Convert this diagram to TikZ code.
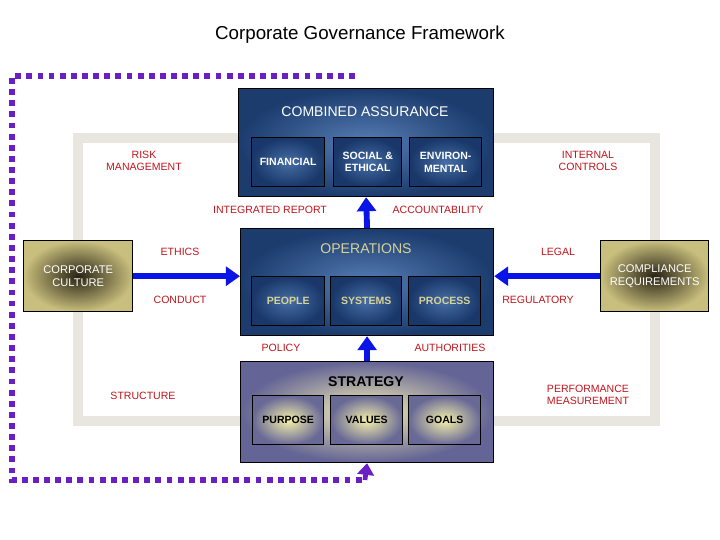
\documentclass[tikz,border=0pt]{standalone}
\usepackage{fontspec}
\setmainfont{Liberation Sans}
\usetikzlibrary{arrows.meta}
\definecolor{lab}{HTML}{C0141C}
\definecolor{pur}{HTML}{6A1FC4}
\definecolor{arr}{HTML}{0A14E6}
\tikzset{
 lbl/.style={text=lab,font=\fontsize{9}{10.5}\selectfont,align=center},
 bigblue/.style={draw=black,line width=1pt,inner color={rgb,255:red,85;green,125;blue,180},outer color={rgb,255:red,28;green,60;blue,110}},
 subblue/.style={draw=black,line width=1.2pt,inner color={rgb,255:red,70;green,110;blue,165},outer color={rgb,255:red,25;green,55;blue,105},text=white,font=\fontsize{9}{10.5}\selectfont\bfseries,align=center},
 subops/.style={subblue,text={rgb,255:red,215;green,210;blue,150}},
 bigstrat/.style={draw=black,line width=1pt,inner color={rgb,255:red,245;green,240;blue,180},outer color={rgb,255:red,100;green,100;blue,150}},
 substrat/.style={draw=black,line width=1.2pt,inner color={rgb,255:red,245;green,240;blue,170},outer color={rgb,255:red,105;green,105;blue,150},text=black,font=\fontsize{9}{10.5}\selectfont\bfseries,align=center},
 gold/.style={draw=black,line width=1.2pt,inner color={rgb,255:red,40;green,35;blue,20},outer color={rgb,255:red,200;green,190;blue,125},text=white,font=\fontsize{9.5}{11}\selectfont,align=center},
 barr/.style={draw=arr,line width=5pt,-{Triangle[length=12pt,width=16pt]}},
 parr/.style={draw=pur,line width=5pt,dash pattern=on 5pt off 4.5pt},
}
\begin{document}
\begin{tikzpicture}[x=0.03cm,y=-0.03cm]
\useasboundingbox (0,0) rectangle (720,540);
\node[font=\fontsize{16}{19}\selectfont] (title) at (360,35) {Corporate Governance Framework};
% gray frame
\draw[line width=8pt,color={rgb,255:red,232;green,230;blue,222}] (78,138) rectangle (655,421);
% purple dotted
\coordinate (p1) at (355,76);
\coordinate (p2) at (12,76);
\coordinate (p3) at (12,480);
\coordinate (p4) at (365,480);
\draw[parr] (p1) -- (p2) -- (p3) -- (p4);
% big boxes
\node[bigblue,minimum width=255*0.03cm,minimum height=108*0.03cm,anchor=north west] (ca) at (238,88) {};
\node[text=white,font=\fontsize{12}{14}\selectfont] (cat) at (365,112) {COMBINED ASSURANCE};
\node[subblue,minimum width=73*0.03cm,minimum height=49*0.03cm,anchor=north west] (fin) at (251,137) {FINANCIAL};
\node[subblue,minimum width=68*0.03cm,minimum height=49*0.03cm,anchor=north west] (soc) at (333,137) {SOCIAL \&\\ETHICAL};
\node[subblue,minimum width=72*0.03cm,minimum height=49*0.03cm,anchor=north west] (env) at (409,137) {ENVIRON-\\MENTAL};

\node[bigblue,minimum width=253*0.03cm,minimum height=107*0.03cm,anchor=north west] (ops) at (240,228) {};
\node[text={rgb,255:red,215;green,210;blue,150},font=\fontsize{12}{14}\selectfont] (opst) at (366,249) {OPERATIONS};
\node[subops,minimum width=73*0.03cm,minimum height=49*0.03cm,anchor=north west] (peo) at (251,276) {PEOPLE};
\node[subops,minimum width=71*0.03cm,minimum height=49*0.03cm,anchor=north west] (sys) at (330,276) {SYSTEMS};
\node[subops,minimum width=72*0.03cm,minimum height=49*0.03cm,anchor=north west] (pro) at (408,276) {PROCESS};

\node[bigstrat,minimum width=253*0.03cm,minimum height=101*0.03cm,anchor=north west] (str) at (240,361) {};
\node[font=\fontsize{12}{14}\selectfont\bfseries] (strt) at (366,382) {STRATEGY};
\node[substrat,minimum width=71*0.03cm,minimum height=49*0.03cm,anchor=north west] (pur) at (252,395) {PURPOSE};
\node[substrat,minimum width=72*0.03cm,minimum height=49*0.03cm,anchor=north west] (val) at (330,395) {VALUES};
\node[substrat,minimum width=72*0.03cm,minimum height=49*0.03cm,anchor=north west] (goa) at (408,395) {GOALS};

\node[gold,minimum width=109*0.03cm,minimum height=71*0.03cm,anchor=north west] (cc) at (23,240) {CORPORATE\\CULTURE};
\node[gold,minimum width=108*0.03cm,minimum height=71*0.03cm,anchor=north west] (cr) at (600,240) {COMPLIANCE\\REQUIREMENTS};

% arrows
\draw[barr] (cc.east) -- (cc.east -| ops.west);
\draw[barr] (cr.west) -- (cr.west -| ops.east);
\draw[barr] (ops.north) -- (ca.south);
\draw[barr] (str.north) -- (ops.south);
\draw[draw=pur,line width=4pt,-{Triangle[length=10pt,width=14pt]}] (p4) -- (str.south);

% labels
\node[lbl] (l1) at (144,161) {RISK\\MANAGEMENT};
\node[lbl] (l2) at (270,210) {INTEGRATED REPORT};
\node[lbl] (l3) at (438,210) {ACCOUNTABILITY};
\node[lbl] (l4) at (588,161) {INTERNAL\\CONTROLS};
\node[lbl] (l5) at (180,252) {ETHICS};
\node[lbl] (l6) at (180,300) {CONDUCT};
\node[lbl] (l7) at (558,252) {LEGAL};
\node[lbl] (l8) at (538,300) {REGULATORY};
\node[lbl] (l9) at (281,348) {POLICY};
\node[lbl] (l10) at (450,348) {AUTHORITIES};
\node[lbl] (l11) at (143,396) {STRUCTURE};
\node[lbl] (l12) at (588,395) {PERFORMANCE\\MEASUREMENT};
\end{tikzpicture}
\end{document}
